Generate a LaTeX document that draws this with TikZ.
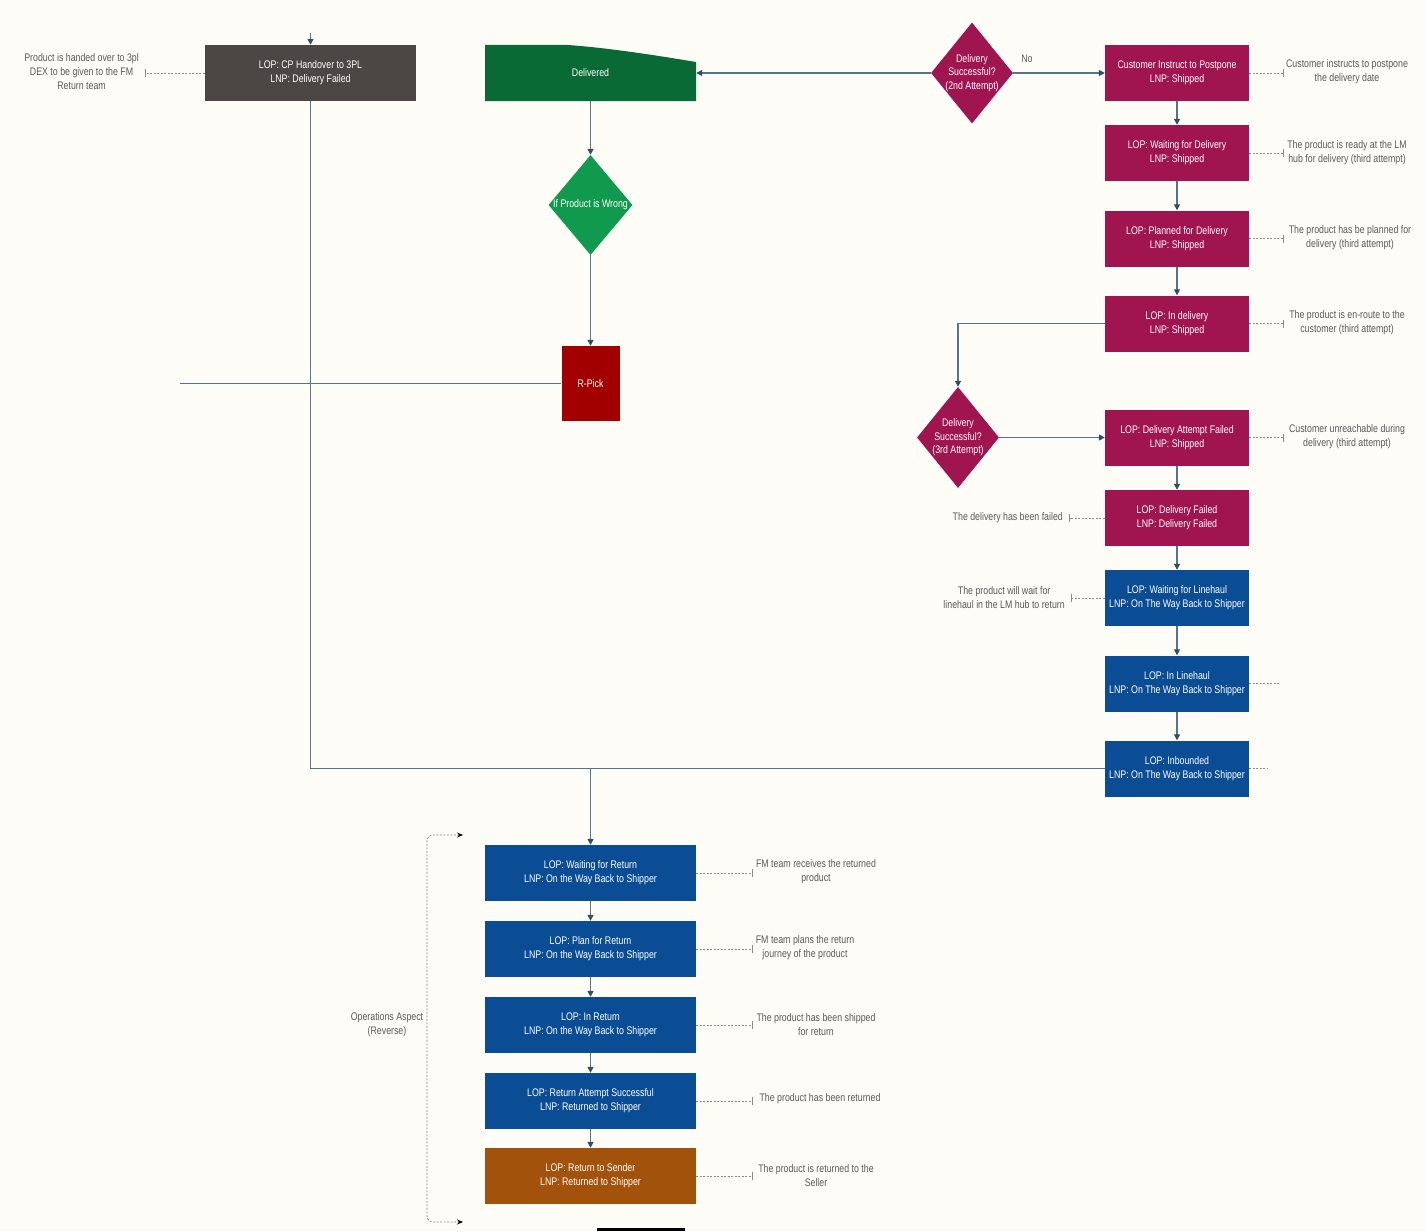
\documentclass[tikz,border=0pt]{standalone}
\usepackage{fontspec}
\setmainfont{Liberation Sans}[FakeStretch=0.8]
\usetikzlibrary{shapes.geometric,arrows.meta}
\definecolor{bgc}{HTML}{FDFCF7}
\definecolor{greyc}{HTML}{4A4745}
\definecolor{dgreen}{HTML}{0A6A35}
\definecolor{lgreen}{HTML}{0F9A4D}
\definecolor{crim}{HTML}{A0144F}
\definecolor{blu}{HTML}{0A4D94}
\definecolor{brwn}{HTML}{A2520B}
\definecolor{rred}{HTML}{A20000}
\definecolor{connc}{HTML}{557585}
\definecolor{tipc}{HTML}{2E5060}
\definecolor{notec}{HTML}{5A5A5A}
\definecolor{notel}{HTML}{8A8A8A}
\tikzset{
  base/.style={font=\fontsize{11}{14}\selectfont},
  boxr/.style={base, rectangle, minimum width=144pt, minimum height=56pt, inner sep=0pt, text=white, align=center},
  boxw/.style={base, rectangle, minimum width=211pt, minimum height=56pt, inner sep=0pt, text=white, align=center},
  dia/.style={diamond, minimum width=82pt, minimum height=101pt, inner sep=0pt},
  dtext/.style={base, text=white, align=center, inner sep=0pt, font=\fontsize{11}{13.5}\selectfont},
  ntext/.style={base, text=notec, align=center, inner sep=0pt},
  conn/.style={draw=connc, line width=1.4pt},
  arr/.style={conn, -{Triangle[width=6pt,length=6pt,color=tipc]}},
  note/.style={draw=notel, line width=0.8pt, dash pattern=on 2pt off 1.5pt, -{Bar[width=8pt,line width=0.9pt]}},
  stub/.style={draw=notel, line width=0.8pt, dash pattern=on 2pt off 1.5pt},
}
\begin{document}
\begin{tikzpicture}[x=1pt,y=-1pt]
\useasboundingbox (0,0) rectangle (1426,1231);
\fill[bgc] (0,0) rectangle (1426,1231);

% ---------- top left ----------
\node[boxw, fill=greyc] (cp) at (310.5,73) {LOP: CP Handover to 3PL\\LNP: Delivery Failed};
\coordinate (cptop) at (310.5,33);
\draw[arr] (cptop) -- (cp.north);
\node[ntext, anchor=east] (t1) at (139,72) {Product is handed over to 3pl\\DEX to be given to the FM\\Return team};
\coordinate (a1) at (145,73);
\draw[note] (cp.west) -- (a1);

% ---------- Delivered ----------
\fill[dgreen] (485,45) -- (568,45) .. controls (610,48) and (660,56) .. (696,62) -- (696,101) -- (485,101) -- cycle;
\node[boxw] (dlv) at (590.5,73) {Delivered};

% ---------- 2nd attempt diamond ----------
\node[dia, fill=crim] (d2) at (972,73) {};
\node[dtext] (d2t) at (d2) {Delivery\\Successful?\\(2nd Attempt)};
\node[ntext] (no) at (1027,59) {No};

% ---------- right column ----------
\node[boxr, fill=crim] (cip) at (1177,73) {Customer Instruct to Postpone\\LNP: Shipped};
\node[boxr, fill=crim] (wfd) at (1177,153) {LOP: Waiting for Delivery\\LNP: Shipped};
\node[boxr, fill=crim] (pfd) at (1177,238.5) {LOP: Planned for Delivery\\LNP: Shipped};
\node[boxr, fill=crim] (ind) at (1177,323.5) {LOP: In delivery\\LNP: Shipped};
\node[dia, fill=crim] (d3) at (958,437.5) {};
\node[dtext] (d3t) at (d3) {Delivery\\Successful?\\(3rd Attempt)};
\node[boxr, fill=crim] (daf) at (1177,437.5) {LOP: Delivery Attempt Failed\\LNP: Shipped};
\node[boxr, fill=crim] (df) at (1177,518) {LOP: Delivery Failed\\LNP: Delivery Failed};
\node[boxr, fill=blu] (wfl) at (1177,598) {LOP: Waiting for Linehaul\\LNP: On The Way Back to Shipper};
\node[boxr, fill=blu] (lh) at (1177,683.5) {LOP: In Linehaul\\LNP: On The Way Back to Shipper};
\node[boxr, fill=blu] (inb) at (1177,768.5) {LOP: Inbounded\\LNP: On The Way Back to Shipper};

\draw[arr] (d2.west) -- (dlv.east);
\draw[arr] (d2.east) -- (cip.west);
\draw[arr] (cip.south) -- (wfd.north);
\draw[arr] (wfd.south) -- (pfd.north);
\draw[arr] (pfd.south) -- (ind.north);
\draw[arr] (ind.west) -| (d3.north);
\draw[arr] (d3.east) -- (daf.west);
\draw[arr] (daf.south) -- (df.north);
\draw[arr] (df.south) -- (wfl.north);
\draw[arr] (wfl.south) -- (lh.north);
\draw[arr] (lh.south) -- (inb.north);

% right notes
\node[ntext] (n1) at (1347,72) {Customer instructs to postpone\\the delivery date};
\node[ntext] (n2) at (1347,153) {The product is ready at the LM\\hub for delivery (third attempt)};
\node[ntext] (n3) at (1350,238) {The product has be planned for\\delivery (third attempt)};
\node[ntext] (n4) at (1347,323) {The product is en-route to the\\customer (third attempt)};
\node[ntext] (n5) at (1347,437) {Customer unreachable during\\delivery (third attempt)};
\coordinate (c1) at (1284,73);
\coordinate (c2) at (1284,153);
\coordinate (c3) at (1284,238.5);
\coordinate (c4) at (1284,323.5);
\coordinate (c5) at (1284,437.5);
\draw[note] (cip.east) -- (c1);
\draw[note] (wfd.east) -- (c2);
\draw[note] (pfd.east) -- (c3);
\draw[note] (ind.east) -- (c4);
\draw[note] (daf.east) -- (c5);
\node[ntext, anchor=east] (n6) at (1063,518) {The delivery has been failed};
\coordinate (c6) at (1069,518);
\draw[note] (df.west) -- (c6);
\node[ntext, anchor=east] (n7) at (1065,598) {The product will wait for\\linehaul in the LM hub to return};
\coordinate (c7) at (1071,598);
\draw[note] (wfl.west) -- (c7);
\coordinate (s1) at (1280,683.5);
\coordinate (s2) at (1268,768.5);
\draw[stub] (lh.east) -- (s1);
\draw[stub] (inb.east) -- (s2);

% ---------- middle ----------
\node[dia, fill=lgreen, minimum width=84pt, minimum height=100pt] (pw) at (590.5,205) {};
\node[dtext] (pwt) at (pw) {If Product is Wrong};
\node[rectangle, fill=rred, minimum width=58pt, minimum height=75pt, inner sep=0pt, base, text=white] (rp) at (590.5,383.5) {R-Pick};
\draw[arr] (dlv.south) -- (pw.north);
\draw[arr] (pw.south) -- (rp.north);
\coordinate (rl) at (180,383.5);
\draw[conn] (rp.west) -- (rl);

% ---------- bottom ----------
\node[boxw, fill=blu] (wr) at (590.5,873) {LOP: Waiting for Return\\LNP: On the Way Back to Shipper};
\node[boxw, fill=blu] (pr) at (590.5,949) {LOP: Plan for Return\\LNP: On the Way Back to Shipper};
\node[boxw, fill=blu] (ir) at (590.5,1025) {LOP: In Return\\LNP: On the Way Back to Shipper};
\node[boxw, fill=blu] (ras) at (590.5,1101) {LOP: Return Attempt Successful\\LNP: Returned to Shipper};
\node[boxw, fill=brwn] (rs) at (590.5,1176) {LOP: Return to Sender\\LNP: Returned to Shipper};

\draw[conn] (cp.south) |- (inb.west);
\coordinate (j) at (590.5,768.5);
\draw[arr] (j) -- (wr.north);
\draw[arr] (wr.south) -- (pr.north);
\draw[arr] (pr.south) -- (ir.north);
\draw[arr] (ir.south) -- (ras.north);
\draw[arr] (ras.south) -- (rs.north);

\node[ntext] (b1) at (816,872) {FM team receives the returned\\product};
\node[ntext] (b2) at (805,948) {FM team plans the return\\journey of the product};
\node[ntext] (b3) at (816,1025) {The product has been shipped\\for return};
\node[ntext] (b4) at (820,1099) {The product has been returned};
\node[ntext] (b5) at (816,1176) {The product is returned to the\\Seller};
\coordinate (e1) at (753,873);
\coordinate (e2) at (753,949);
\coordinate (e3) at (753,1025);
\coordinate (e4) at (753,1101);
\coordinate (e5) at (753,1176);
\draw[note] (wr.east) -- (e1);
\draw[note] (pr.east) -- (e2);
\draw[note] (ir.east) -- (e3);
\draw[note] (ras.east) -- (e4);
\draw[note] (rs.east) -- (e5);

% bracket
\coordinate (bt) at (463,835);
\coordinate (bb) at (463,1222);
\draw[draw=notel, line width=0.8pt, dash pattern=on 2pt off 1.5pt, rounded corners=6pt,
  {Stealth[length=6pt,width=5pt,color=black]}-{Stealth[length=6pt,width=5pt,color=black]}]
  (bt) -- (427,835) -- (427,1222) -- (bb);
\node[ntext] (ops) at (387,1024.5) {Operations Aspect\\(Reverse)};

% cut-off box at bottom
\fill[black] (597,1228) rectangle (685,1231);
\end{tikzpicture}
\end{document}
